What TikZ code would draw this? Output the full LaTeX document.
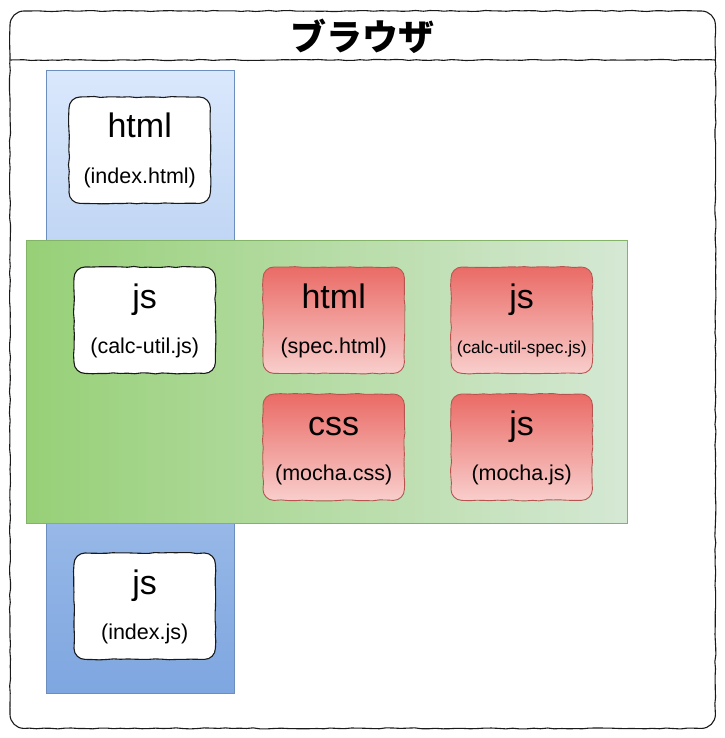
\documentclass[tikz,border=0pt]{standalone}
\usepackage{fontspec}
\setmainfont{Liberation Sans}
\newfontfamily\jpfont{Noto Sans CJK JP}
\usetikzlibrary{calc,decorations.pathmorphing}
\definecolor{blueTop}{HTML}{DAE8FC}
\definecolor{blueBot}{HTML}{7EA6E0}
\definecolor{blueBorder}{HTML}{6C8EBF}
\definecolor{greenL}{HTML}{97D077}
\definecolor{greenR}{HTML}{D5E8D4}
\definecolor{greenBorder}{HTML}{82B366}
\definecolor{redTop}{HTML}{EA6B66}
\definecolor{redBot}{HTML}{F8CECC}
\definecolor{redBorder}{HTML}{B85450}
\definecolor{ink}{HTML}{1A1A1A}
\tikzset{
  decoration={random steps, segment length=7pt, amplitude=0.55pt},
  inkline/.style={draw=ink, line width=1.1pt, line join=round},
  redline/.style={draw=redBorder, line width=0.9pt, line join=round},
  framebox/.style={fill=white, rounded corners=14pt, inner sep=0pt},
  whitecard/.style={fill=white, rounded corners=11pt},
  redcard/.style={top color=redTop, bottom color=redBot, rounded corners=11pt},
  bluecol/.style={draw=blueBorder, line width=0.7pt, top color=blueTop, bottom color=blueBot, inner sep=0pt},
  greenband/.style={draw=greenBorder, line width=0.7pt, left color=greenL, right color=greenR, inner sep=0pt},
  bigtxt/.style={font=\fontsize{34}{34}\selectfont, inner sep=0pt},
  smalltxt/.style={font=\fontsize{21.5}{21.5}\selectfont, inner sep=0pt},
  tinytxt/.style={font=\fontsize{17.3}{17.3}\selectfont, inner sep=0pt},
  titletxt/.style={font=\jpfont\bfseries\fontsize{36}{36}\selectfont, inner sep=0pt},
}
% sketchy rounded outline around node #1, radius #2, line style #3
\newcommand\sketchoutline[3]{%
  \draw[#3] ($(#1.north west)+(#2,0)$)
    decorate{-- ($(#1.north east)+(-#2,0)$)}
    arc[start angle=90, end angle=0, radius=#2pt]
    decorate{-- ($(#1.south east)+(0,-#2)$)}
    arc[start angle=0, end angle=-90, radius=#2pt]
    decorate{-- ($(#1.south west)+(#2,0)$)}
    arc[start angle=-90, end angle=-180, radius=#2pt]
    decorate{-- ($(#1.north west)+(0,#2)$)}
    arc[start angle=180, end angle=90, radius=#2pt] -- cycle;
}
\newcommand\filecard[8]{%
  \node[#4, anchor=north west, minimum width=141pt, minimum height=106pt, inner sep=0pt] (#1) at (#2,#3) {};
  \sketchoutline{#1}{11}{#8}
  \node[bigtxt, anchor=base] (#1-a) at ($(#1.north)+(0,41)$) {#5};
  \node[#7, anchor=base] (#1-b) at ($(#1.north)+(0,86)$) {#6};
}
\begin{document}
\begin{tikzpicture}[x=1pt, y=-1pt]
\useasboundingbox (0,0) rectangle (724,738);
% outer browser frame
\node[framebox, anchor=north west, minimum width=705pt, minimum height=717pt] (browser) at (10,11) {};
\sketchoutline{browser}{14}{inkline}
\coordinate (sepL) at (10,60);
\coordinate (sepR) at (715,60);
\draw[inkline, decorate] (sepL) -- (sepR);
\node[titletxt] (title) at (362,36) {ブラウザ};
% blue column
\node[bluecol, anchor=north west, minimum width=188pt, minimum height=623pt] (col) at (46,70) {};
% green band
\node[greenband, anchor=north west, minimum width=601pt, minimum height=283pt] (band) at (26,240) {};
% cards
\filecard{idxhtml}{69}{97}{whitecard}{html}{(index.html)}{smalltxt}{inkline}
\filecard{calcjs}{74}{267}{whitecard}{js}{(calc-util.js)}{smalltxt}{inkline}
\filecard{idxjs}{74}{553}{whitecard}{js}{(index.js)}{smalltxt}{inkline}
\filecard{spechtml}{263}{267}{redcard}{html}{(spec.html)}{smalltxt}{redline}
\filecard{specjs}{451}{267}{redcard}{js}{(calc-util-spec.js)}{tinytxt}{redline}
\filecard{mochacss}{263}{394}{redcard}{css}{(mocha.css)}{smalltxt}{redline}
\filecard{mochajs}{451}{394}{redcard}{js}{(mocha.js)}{smalltxt}{redline}
\end{tikzpicture}
\end{document}
